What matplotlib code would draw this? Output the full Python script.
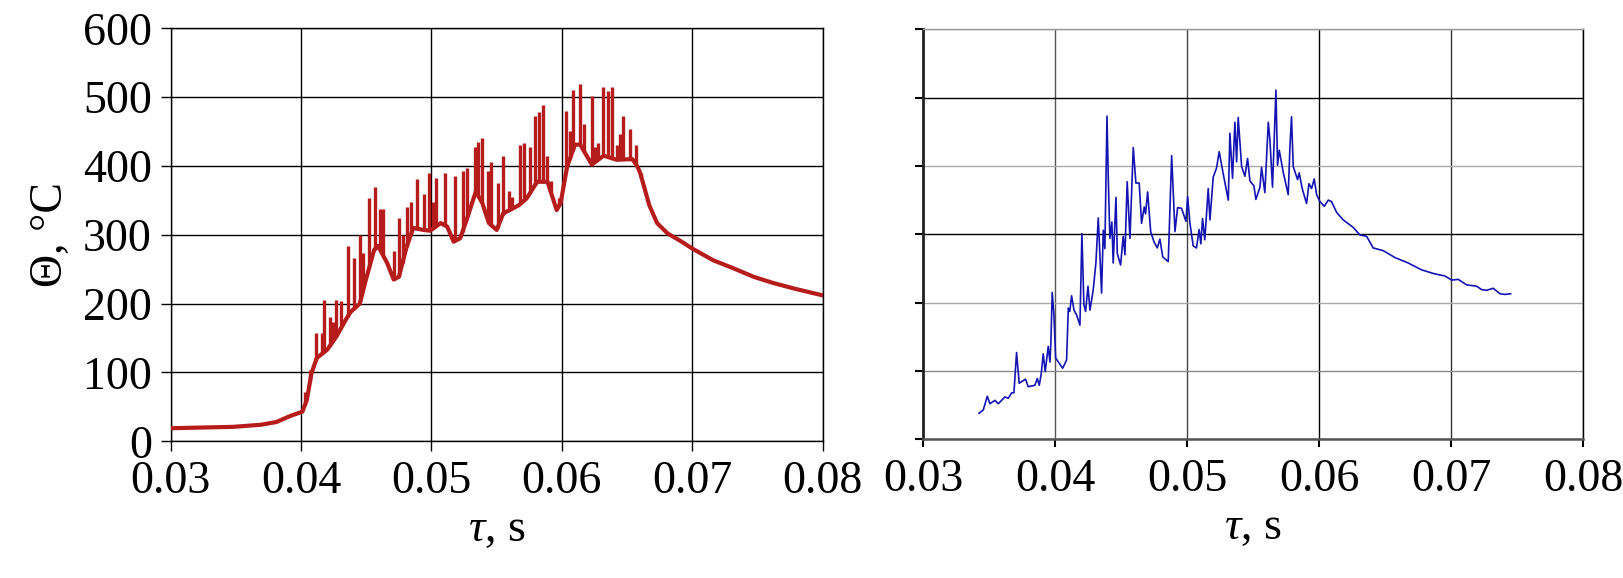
import numpy as np
import matplotlib as mpl
mpl.use('Agg')
import matplotlib.pyplot as plt

plt.rcParams['font.family'] = ['Liberation Serif', 'DejaVu Serif']
plt.rcParams['mathtext.fontset'] = 'custom'
plt.rcParams['mathtext.it'] = 'Liberation Serif:italic'
plt.rcParams['mathtext.rm'] = 'Liberation Serif'

# computed temperature: smooth part of the curve
t_red = [0.0300, 0.0348, 0.0369, 0.0381, 0.0392, 0.0401, 0.04044, 0.0408, 0.0412, 0.0420,
         0.0427, 0.0435, 0.0438, 0.0445, 0.0449, 0.0456, 0.0459, 0.0466, 0.0471, 0.0475,
         0.0481, 0.0486, 0.0494, 0.0499, 0.0507, 0.0512, 0.0517, 0.0522, 0.0527, 0.0534,
         0.0539, 0.0544, 0.0550, 0.0555, 0.0567, 0.0573, 0.0581, 0.0589, 0.0591, 0.0596,
         0.0599, 0.0604, 0.0610, 0.0614, 0.0623, 0.0632, 0.0642, 0.0654, 0.0658, 0.0660,
         0.0663, 0.0667, 0.0673, 0.0681, 0.0691, 0.0700, 0.0716, 0.0732, 0.0747, 0.0762,
         0.0780, 0.0800]
th_red = [19, 21, 24, 28, 37, 43, 60, 99, 121, 133,
          152, 179, 188, 200, 230, 278, 284, 259, 235, 239,
          283, 310, 307, 306, 317, 312, 290, 295, 322, 363,
          346, 317, 307, 331, 343, 353, 377, 377, 365, 336,
          346, 399, 431, 431, 402, 415, 409, 410, 399, 390,
          370, 343, 317, 302, 291, 280, 263, 251, 239, 230,
          221, 212]

# computed temperature: flash spikes
t_spk = [0.04031, 0.04069, 0.04113, 0.04164, 0.04179, 0.04218, 0.04248, 0.04271, 0.04307, 0.04356,
         0.04402, 0.04453, 0.04478, 0.04522, 0.04563, 0.04606, 0.04627, 0.04716, 0.04747, 0.04778,
         0.04809, 0.04844, 0.04888, 0.04939, 0.04982, 0.05008, 0.05036, 0.05105, 0.05177, 0.05238,
         0.05276, 0.05330, 0.05356, 0.05384, 0.05430, 0.05460, 0.05507, 0.05545, 0.05591, 0.05621,
         0.05681, 0.05706, 0.05758, 0.05796, 0.05821, 0.05852, 0.05886, 0.05916, 0.05980, 0.06034,
         0.06060, 0.06082, 0.06136, 0.06167, 0.06228, 0.06256, 0.06280, 0.06312, 0.06356, 0.06381,
         0.06420, 0.06448, 0.06466, 0.06520, 0.06566, 0.06610]
th_spk = [72, 104, 157, 157, 205, 181, 174, 205, 204, 284,
          266, 300, 274, 354, 369, 338, 338, 276, 325, 300,
          340, 348, 381, 359, 390, 348, 383, 390, 386, 392,
          397, 427, 435, 441, 392, 406, 376, 414, 364, 355,
          430, 434, 428, 472, 478, 488, 415, 378, 354, 480,
          451, 511, 519, 461, 501, 427, 433, 515, 509, 515,
          430, 447, 472, 454, 431, 390]

# measured temperature
t_blue = [0.03422, 0.03455, 0.03485, 0.03505, 0.03543, 0.03568, 0.03619, 0.03644, 0.03670, 0.03687,
          0.03707, 0.03727, 0.03775, 0.03795, 0.03846, 0.03864, 0.03879, 0.03894, 0.03909, 0.03924,
          0.03947, 0.03960, 0.03967, 0.03977, 0.03990, 0.04003, 0.04035, 0.04056, 0.04086, 0.04099,
          0.04110, 0.04124, 0.04142, 0.04162, 0.04187, 0.04202, 0.04217, 0.04230, 0.04248, 0.04263,
          0.04288, 0.04308, 0.04326, 0.04351, 0.04364, 0.04376, 0.04392, 0.04402, 0.04414, 0.04429,
          0.04439, 0.04460, 0.04470, 0.04495, 0.04515, 0.04528, 0.04545, 0.04566, 0.04591, 0.04611,
          0.04636, 0.04654, 0.04674, 0.04684, 0.04700, 0.04723, 0.04748, 0.04773, 0.04793, 0.04814,
          0.04856, 0.04882, 0.04907, 0.04927, 0.04957, 0.04990, 0.05003, 0.05020, 0.05045, 0.05070,
          0.05090, 0.05103, 0.05116, 0.05133, 0.05159, 0.05172, 0.05197, 0.05222, 0.05242, 0.05273,
          0.05311, 0.05323, 0.05343, 0.05361, 0.05374, 0.05386, 0.05412, 0.05437, 0.05457, 0.05475,
          0.05505, 0.05520, 0.05551, 0.05563, 0.05588, 0.05614, 0.05626, 0.05646, 0.05672, 0.05684,
          0.05697, 0.05727, 0.05765, 0.05778, 0.05790, 0.05803, 0.05836, 0.05848, 0.05871, 0.05904,
          0.05922, 0.05942, 0.05962, 0.05980, 0.06005, 0.06038, 0.06068, 0.06093, 0.06132, 0.06182,
          0.06258, 0.06308, 0.06359, 0.06409, 0.06485, 0.06573, 0.06674, 0.06775, 0.06876, 0.06952,
          0.07003, 0.07053, 0.07117, 0.07193, 0.07231, 0.07268, 0.07318, 0.07369, 0.07407, 0.07450]
th_blue = [38, 43, 63, 52, 57, 52, 62, 60, 68, 68,
           127, 82, 88, 77, 79, 89, 79, 96, 125, 99,
           136, 113, 141, 215, 182, 119, 110, 104, 116, 192,
           187, 210, 189, 182, 167, 301, 197, 187, 224, 189,
           219, 258, 324, 214, 306, 279, 473, 380, 294, 318,
           258, 354, 272, 255, 297, 270, 377, 294, 427, 375,
           375, 316, 340, 330, 362, 304, 289, 280, 293, 267,
           260, 415, 304, 339, 338, 319, 355, 317, 283, 280,
           307, 286, 323, 292, 367, 321, 384, 397, 421, 388,
           350, 448, 382, 464, 406, 471, 399, 385, 411, 378,
           371, 351, 369, 398, 361, 464, 439, 369, 511, 401,
           423, 391, 358, 428, 472, 399, 380, 390, 367, 345,
           374, 367, 381, 358, 348, 341, 350, 348, 332, 321,
           310, 299, 297, 280, 276, 266, 258, 248, 242, 239,
           233, 234, 226, 224, 219, 218, 221, 213, 212, 213]

x_ticks = [0.03, 0.04, 0.05, 0.06, 0.07, 0.08]
y_ticks = [0, 100, 200, 300, 400, 500, 600]

fig = plt.figure(figsize=(16.24, 5.78), dpi=100)
ax1 = fig.add_axes([0.1051, 0.2365, 0.4015, 0.7145])
ax2 = fig.add_axes([0.5685, 0.240, 0.4064, 0.7093])

red = '#b71c1c'
blue = '#1414b4'

# left: computed
ax1.plot(t_red, th_red, color=red, lw=3.0, zorder=3, solid_joinstyle='round')
foot = np.interp(t_spk, t_red, th_red)
ax1.vlines(t_spk, foot, th_spk, color=red, lw=2.4, zorder=3)

# right: measured
ax2.plot(t_blue, th_blue, color=blue, lw=1.2, zorder=3)

for ax in (ax1, ax2):
    ax.set_xlim(0.03, 0.08)
    ax.set_ylim(0, 600)
    ax.set_xticks(x_ticks)
    ax.set_yticks(y_ticks)
    ax.set_xticklabels([f'{v:.2f}' for v in x_ticks])
    ax.grid(True, color='black', lw=1.0, zorder=1)
    ax.set_axisbelow(True)
    for s in ax.spines.values():
        s.set_color('black')
        s.set_linewidth(1.0)
    ax.set_xlabel(r'$\tau$, s', fontsize=33, labelpad=4)

ax1.tick_params(axis='both', direction='out', length=7.5, width=1.0, labelsize=33, pad=6)
ax1.set_yticklabels([str(v) for v in y_ticks])
ax1.set_ylabel('Θ, °C', fontsize=33, labelpad=8)

ax2.tick_params(axis='x', direction='out', length=6, width=1.5, labelsize=33, pad=7.5)
ax2.tick_params(axis='y', direction='out', length=6, width=1.5, labelleft=False)

# the scanned right panel has grid lines in mixed shades
ygrid_col = ['#777777', '#8a8a8a', '#aaaaaa', 'black', '#aaaaaa', 'black', '#999999']
xgrid_col = ['#444444', '#555555', '#444444', 'black', '#333333', 'black']
for line, c in zip(ax2.get_ygridlines(), ygrid_col):
    line.set_color(c)
for line, c in zip(ax2.get_xgridlines(), xgrid_col):
    line.set_color(c)
ax2.spines['left'].set_linewidth(2.0)
ax2.spines['left'].set_color('#222222')
ax2.spines['bottom'].set_linewidth(1.8)
ax2.spines['bottom'].set_color('#555555')
ax2.spines['top'].set_color('#999999')

fig.savefig('out.png', dpi=100)
